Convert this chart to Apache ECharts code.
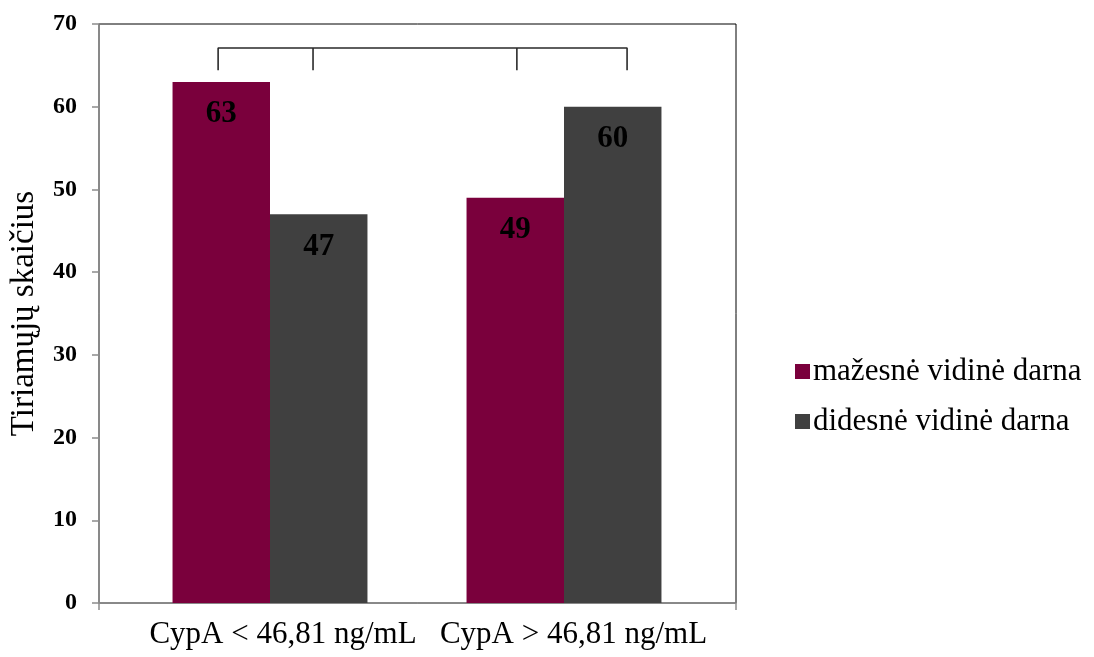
<!DOCTYPE html>
<html>
<head>
<meta charset="utf-8">
<script src="https://cdn.jsdelivr.net/npm/echarts@6/dist/echarts.min.js"></script>
<style>
  html, body { margin: 0; padding: 0; background: #fff; }
  #chart { width: 1094px; height: 657px; }
</style>
</head>
<body>
<div id="chart"></div>
<script>
// Group labels and counts per group
const categories = ['CypA < 46,81 ng/mL', 'CypA > 46,81 ng/mL'];
const seriesNames = ['mažesnė vidinė darna', 'didesnė vidinė darna'];
const lowerCohesion = [63, 49];
const higherCohesion = [47, 60];
const yTicks = { min: 0, max: 70, step: 10 };
const yAxisTitle = 'Tiriamųjų skaičius';

// Significance bracket: positions along the frame (0..1) and its two heights in axis units
const bracketX = [0.187, 0.336, 0.656, 0.829];
const bracketY = { top: 67.1, foot: 64.4 };

const serif = '"Liberation Serif", "Times New Roman", serif';
const colors = ['#7A003C', '#404040'];

const chart = echarts.init(document.getElementById('chart'), null, { renderer: 'canvas' });

const bracketSeries = [
  [[bracketX[0], bracketY.foot], [bracketX[0], bracketY.top], [bracketX[3], bracketY.top], [bracketX[3], bracketY.foot]],
  [[bracketX[1], bracketY.top], [bracketX[1], bracketY.foot]],
  [[bracketX[2], bracketY.top], [bracketX[2], bracketY.foot]]
].map(pts => ({
  type: 'line',
  xAxisIndex: 0,
  yAxisIndex: 0,
  data: pts,
  symbol: 'none',
  silent: true,
  animation: false,
  lineStyle: { color: '#2a2a2a', width: 1.6 },
  z: 5
}));

const barLabel = {
  show: true,
  position: 'insideTop',
  distance: 17,
  color: '#000',
  fontFamily: serif,
  fontWeight: 'bold',
  fontSize: 31
};

chart.setOption({
  animation: false,
  backgroundColor: '#fff',
  color: colors,
  grid: [
    { left: 98, right: 358, top: 24, bottom: 54, show: true, borderColor: '#000', borderWidth: 1, backgroundColor: 'transparent' },
    { left: 123, right: 383, top: 24, bottom: 54 }
  ],
  legend: {
    data: seriesNames,
    orient: 'vertical',
    left: 790,
    top: 351,
    itemWidth: 15,
    itemHeight: 15,
    itemGap: 19,
    icon: 'rect',
    textStyle: { fontFamily: serif, fontSize: 31, color: '#000', padding: [0, 0, 0, -2] }
  },
  xAxis: [
    {
      type: 'value', gridIndex: 0, min: 0, max: 1, interval: 1,
      axisLine: { show: true, lineStyle: { color: '#8c8c8c', width: 1.5 } },
      axisTick: { show: true, length: 7, lineStyle: { color: '#8c8c8c', width: 1.5 } },
      axisLabel: { show: false },
      splitLine: { show: false }
    },
    {
      type: 'category', gridIndex: 1, data: categories,
      axisLine: { show: false }, axisTick: { show: false },
      axisLabel: {
        margin: 16,
        formatter: (v, i) => (i === 0 ? '{a|' : '{b|') + v + '}',
        rich: {
          a: { fontFamily: serif, fontSize: 31, color: '#000', padding: [0, 0, 0, 26] },
          b: { fontFamily: serif, fontSize: 31, color: '#000', padding: [0, 0, 0, 19] }
        }
      },
      splitLine: { show: false }
    }
  ],
  yAxis: [
    {
      type: 'value', gridIndex: 0, min: yTicks.min, max: yTicks.max, interval: yTicks.step,
      name: yAxisTitle, nameLocation: 'middle', nameGap: 58, nameRotate: 90,
      nameTextStyle: { fontFamily: serif, fontSize: 33, color: '#000' },
      axisLine: { show: true, lineStyle: { color: '#8c8c8c', width: 1.5 } },
      axisTick: { show: true, length: 7, lineStyle: { color: '#8c8c8c', width: 1.5 } },
      axisLabel: { margin: 22, fontFamily: serif, fontSize: 24, fontWeight: 'bold', color: '#000' },
      splitLine: { show: false }
    },
    {
      type: 'value', gridIndex: 1, min: yTicks.min, max: yTicks.max, interval: yTicks.step,
      show: false
    }
  ],
  series: [
    {
      name: seriesNames[0], type: 'bar', xAxisIndex: 1, yAxisIndex: 1,
      data: lowerCohesion, barGap: '0%', barCategoryGap: '33.7%',
      itemStyle: { color: colors[0] }, label: barLabel
    },
    {
      name: seriesNames[1], type: 'bar', xAxisIndex: 1, yAxisIndex: 1,
      data: higherCohesion, barGap: '0%', barCategoryGap: '33.7%',
      itemStyle: { color: colors[1] }, label: barLabel
    },
    ...bracketSeries
  ]
});
</script>
</body>
</html>
